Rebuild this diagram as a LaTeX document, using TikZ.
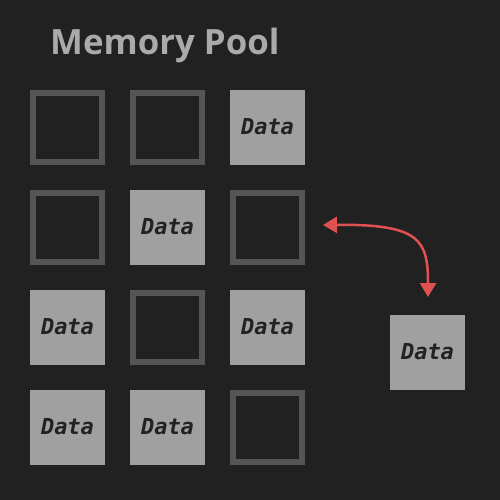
\documentclass[tikz,border=0pt]{standalone}
\usepackage{fontspec}
\newfontfamily\titlefont{Open Sans}
\newfontfamily\datafont{DejaVu Sans Mono}
\usetikzlibrary{arrows.meta}
\definecolor{bg}{HTML}{212121}
\definecolor{titlecol}{HTML}{AAAAAA}
\definecolor{emptycol}{HTML}{555555}
\definecolor{fullcol}{HTML}{A0A0A0}
\definecolor{datacol}{HTML}{222222}
\definecolor{arrowcol}{HTML}{E05252}
\tikzset{
  emptybox/.style={draw=emptycol, line width=6pt, minimum size=69pt, inner sep=0pt},
  fullbox/.style={fill=fullcol, minimum size=75pt, inner sep=0pt, text=datacol,
    font=\datafont\bfseries\itshape\fontsize{22}{22}\selectfont},
  datatext/.style={yshift=1.5pt},
  link/.style={draw=arrowcol, line width=2.5pt, {Triangle[length=14pt,width=16pt]}-{Triangle[length=14pt,width=16pt]}}
}
\begin{document}
\begin{tikzpicture}[x=1pt,y=-1pt]
\fill[bg] (0,0) rectangle (500,500);
\useasboundingbox (0,0) rectangle (500,500);
\node[anchor=base west, text=titlecol, inner sep=0pt, font=\titlefont\bfseries\fontsize{34.8}{34.8}\selectfont] (title) at (50,55) {Memory Pool};
% row 1
\node[emptybox] (b11) at (67.5,127.5) {};
\node[emptybox] (b12) at (167.5,127.5) {};
\node[fullbox] (b13) at (267.5,127.5) {\raisebox{1.5pt}{Data}};
% row 2
\node[emptybox] (b21) at (67.5,227.5) {};
\node[fullbox] (b22) at (167.5,227.5) {\raisebox{1.5pt}{Data}};
\node[emptybox] (b23) at (267.5,227.5) {};
% row 3
\node[fullbox] (b31) at (67.5,327.5) {\raisebox{1.5pt}{Data}};
\node[emptybox] (b32) at (167.5,327.5) {};
\node[fullbox] (b33) at (267.5,327.5) {\raisebox{1.5pt}{Data}};
% row 4
\node[fullbox] (b41) at (67.5,427.5) {\raisebox{1.5pt}{Data}};
\node[fullbox] (b42) at (167.5,427.5) {\raisebox{1.5pt}{Data}};
\node[emptybox] (b43) at (267.5,427.5) {};
% outside
\node[fullbox] (ext) at (427.5,352.5) {\raisebox{1.5pt}{Data}};
\coordinate (slot) at (323,225);
\coordinate (out) at (428,297);
\draw[link] (slot) .. controls (420,224) and (428,240) .. (out);
\end{tikzpicture}
\end{document}
